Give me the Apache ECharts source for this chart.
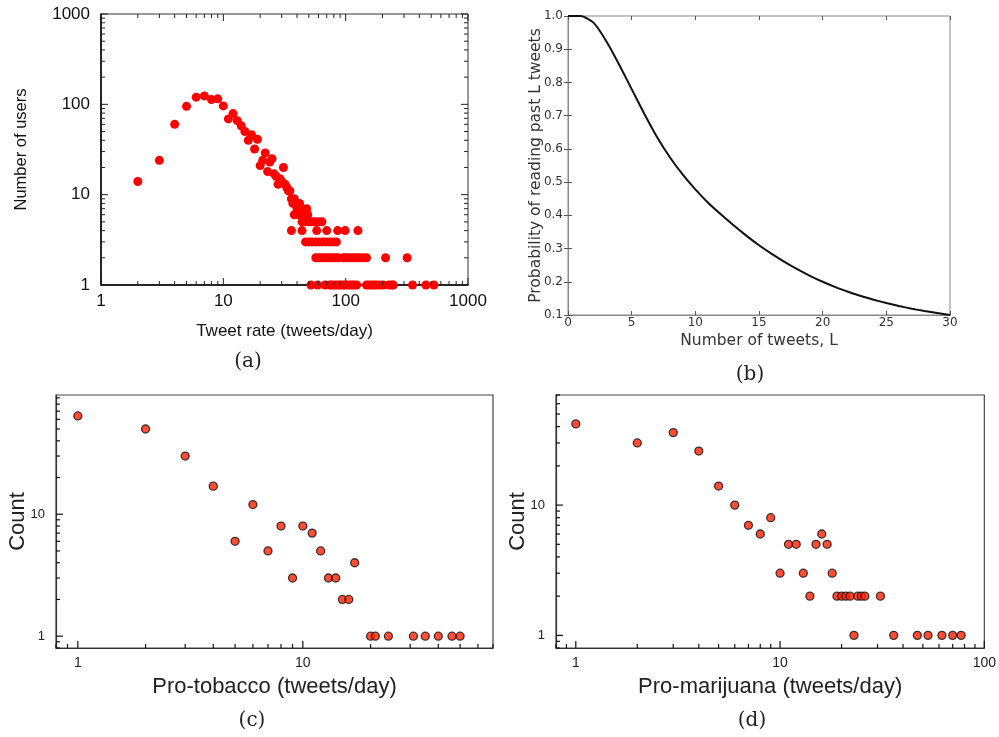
<!DOCTYPE html>
<html>
<head>
<meta charset="utf-8">
<title>Tweet rate distributions</title>
<script src="https://cdn.jsdelivr.net/npm/echarts@6/dist/echarts.min.js"></script>
<style>
  html, body { margin: 0; padding: 0; background: #fff; }
  #chart { width: 999px; height: 737px; }
</style>
</head>
<body>
<div id="chart"></div>
<script>
// (a) Tweet rate vs number of users
const tweetRate = [
  2, 3, 4, 5, 6, 7, 8, 9, 10, 11, 12, 13, 14, 15, 16, 17, 18, 19, 20, 21, 22, 23, 24, 25,
  26, 27, 28, 29, 30, 31, 32, 33, 34, 35,
  36, 38,
  37, 39, 42,
  40, 43, 48,
  38, 41, 44, 49,
  44, 47, 50, 53, 56, 60, 64,
  36, 44, 58, 70, 86, 99, 126,
  47, 50, 53, 57, 61, 65, 69, 74, 79, 84,
  57, 60, 63, 67, 71, 75, 79, 83, 87, 96, 100, 105, 111, 117, 123, 130, 138, 148, 212, 318,
  52, 59, 68, 74, 77, 81, 85, 89, 93, 97, 101, 106, 112, 117, 123, 148, 155, 163, 171, 179,
  190, 203, 226, 238, 245, 352, 453, 526
];
const numUsers = [
  14, 24, 60, 95, 120, 124, 113, 115, 96, 69, 79, 66, 58, 50, 40, 46, 32, 41, 21, 24, 29, 18, 23, 25,
  17, 16, 13, 15, 14, 20, 13, 12, 11, 11,
  9, 9,
  8, 8, 8,
  7, 7, 7,
  6, 6, 6, 6,
  5, 5, 5, 5, 5, 5, 5,
  4, 4, 4, 4, 4, 4, 4,
  3, 3, 3, 3, 3, 3, 3, 3, 3, 3,
  2, 2, 2, 2, 2, 2, 2, 2, 2, 2, 2, 2, 2, 2, 2, 2, 2, 2, 2, 2,
  1, 1, 1, 1, 1, 1, 1, 1, 1, 1, 1, 1, 1, 1, 1, 1, 1, 1, 1, 1,
  1, 1, 1, 1, 1, 1, 1, 1
];

// (b) Probability of reading past L tweets
const tweetsL = [0, 1, 2, 3, 4, 5, 6, 7, 8, 9, 10, 11, 12, 13, 14, 15, 16, 17, 18, 19, 20,
  21, 22, 23, 24, 25, 26, 27, 28, 29, 30];
const readProb = [1.0, 1.0, 0.98, 0.925, 0.855, 0.78, 0.705, 0.635, 0.575, 0.523, 0.478,
  0.438, 0.403, 0.37, 0.339, 0.31, 0.284, 0.26, 0.238, 0.218, 0.2,
  0.184, 0.17, 0.157, 0.146, 0.136, 0.127, 0.119, 0.112, 0.106, 0.1];

// (c) Pro-tobacco
const tobaccoRate = [1, 2, 3, 4, 5, 6, 7, 8, 9, 10, 11, 12, 13, 14, 15, 16, 17, 20, 21, 24, 31, 35, 40, 46, 50];
const tobaccoCount = [64, 50, 30, 17, 6, 12, 5, 8, 3, 8, 7, 5, 3, 3, 2, 2, 4, 1, 1, 1, 1, 1, 1, 1, 1];

// (d) Pro-marijuana
const marijuanaRate = [1, 2, 3, 4, 5, 6, 7, 8, 9, 10, 11, 12, 13, 14, 15, 16, 17, 18, 19, 20, 21, 22,
  23, 24, 25, 26, 31, 36, 47, 53, 62, 70, 77];
const marijuanaCount = [42, 30, 36, 26, 14, 10, 7, 6, 8, 3, 5, 5, 3, 2, 5, 6, 5, 3, 2, 2, 2, 2,
  1, 2, 2, 2, 2, 1, 1, 1, 1, 1, 1];

// axis ranges and tick steps
const rangeA = { x: [1, 1000], y: [1, 1000] };
const rangeC = { x: [0.8, 70], y: [0.8, 95] };
const rangeD = { x: [0.8, 100], y: [0.8, 70] };
const probTicks = { min: 0.1, max: 1.0, step: 0.1 };
const lengthTicks = { min: 0, max: 30, step: 5 };
const DECADE_STEP = [1];
const MINOR_STEPS = [2, 3, 4, 5, 6, 7, 8, 9];

const zip = (a, b) => a.map((v, i) => [v, b[i]]);

function stepsInRange(lo, hi, steps) {
  const out = [];
  for (let k = Math.floor(Math.log10(lo)); k <= Math.ceil(Math.log10(hi)); k++) {
    steps.forEach(m => {
      const v = m * Math.pow(10, k);
      if (v >= lo * 0.9999 && v <= hi * 1.0001) out.push(v);
    });
  }
  return out;
}

// sides: 0 bottom, 1 top, 2 left, 3 right
function tickData(range, mirror) {
  const data = [];
  const add = (steps, major) => {
    stepsInRange(range.x[0], range.x[1], steps).forEach(v => {
      data.push([v, range.y[0], 0, major]);
      if (mirror) data.push([v, range.y[0], 1, major]);
    });
    stepsInRange(range.y[0], range.y[1], steps).forEach(v => {
      data.push([range.x[0], v, 2, major]);
      if (mirror) data.push([range.x[0], v, 3, major]);
    });
  };
  add(DECADE_STEP, 1);
  add(MINOR_STEPS, 0);
  return data;
}

function tickRenderer(majorLen, minorLen, color, width) {
  return function (params, api) {
    const cs = params.coordSys;
    const side = api.value(2);
    const len = api.value(3) ? majorLen : minorLen;
    const p = api.coord([api.value(0), api.value(1)]);
    let shape;
    if (side === 0) shape = { x1: p[0], y1: cs.y + cs.height, x2: p[0], y2: cs.y + cs.height - len };
    else if (side === 1) shape = { x1: p[0], y1: cs.y, x2: p[0], y2: cs.y + len };
    else if (side === 2) shape = { x1: cs.x, y1: p[1], x2: cs.x + len, y2: p[1] };
    else shape = { x1: cs.x + cs.width, y1: p[1], x2: cs.x + cs.width - len, y2: p[1] };
    return { type: 'line', shape: shape, style: { stroke: color, lineWidth: width } };
  };
}

const decadeLabel = v => {
  const e = Math.log10(v);
  return Math.abs(e - Math.round(e)) < 1e-6 ? String(Math.round(Math.pow(10, Math.round(e)))) : '';
};

const SANS = 'Liberation Sans, Arial, Helvetica, sans-serif';
const MPL = 'DejaVu Sans, sans-serif';
const SERIF = 'DejaVu Serif, serif';

function logAxis(grid, range, opts) {
  return {
    type: 'log', logBase: 10, gridIndex: grid,
    min: range[0], max: range[1],
    axisLine: { show: true, lineStyle: { color: opts.lineColor, width: opts.lineWidth } },
    axisTick: { show: false },
    splitLine: { show: false },
    axisLabel: { formatter: decadeLabel, fontFamily: SANS, fontSize: opts.fontSize,
      color: opts.labelColor, margin: opts.margin, showMinLabel: true, showMaxLabel: true },
    name: opts.name, nameLocation: 'middle', nameGap: opts.nameGap, nameMoveOverlap: false,
    nameTextStyle: { fontFamily: SANS, fontSize: opts.nameSize, color: opts.labelColor }
  };
}

function tickSeries(axisIndex, range, mirror, majorLen, minorLen, color, width) {
  return {
    type: 'custom', xAxisIndex: axisIndex, yAxisIndex: axisIndex, silent: true, z: 5,
    clip: false,
    dimensions: ['x', 'y', 'side', 'major'],
    encode: { x: 0, y: 1 },
    renderItem: tickRenderer(majorLen, minorLen, color, width),
    data: tickData(range, mirror)
  };
}

const chart = echarts.init(document.getElementById('chart'), null, { renderer: 'canvas' });

const option = {
  animation: false,
  backgroundColor: '#ffffff',
  grid: [
    { left: 101, top: 14, width: 367, height: 271, show: true, borderColor: '#333', borderWidth: 1, backgroundColor: 'transparent' },
    { left: 568, top: 16, width: 382, height: 299, show: true, borderColor: '#888', borderWidth: 1, backgroundColor: 'transparent' },
    { left: 56, top: 395, width: 437, height: 253, show: true, borderColor: '#444', borderWidth: 1.2, backgroundColor: 'transparent' },
    { left: 556, top: 395, width: 437, height: 253, show: true, borderColor: '#444', borderWidth: 1.2, backgroundColor: 'transparent' }
  ],
  xAxis: [
    logAxis(0, rangeA.x, { lineColor: '#000', lineWidth: 1.5, fontSize: 17, labelColor: '#111', margin: 8,
      name: 'Tweet rate (tweets/day)', nameGap: 38, nameSize: 17 }),
    {
      type: 'value', gridIndex: 1, min: lengthTicks.min, max: lengthTicks.max, interval: lengthTicks.step,
      axisLine: { show: true, lineStyle: { color: '#888' } },
      axisTick: { show: true, inside: true, length: 4, lineStyle: { color: '#555' } },
      splitLine: { show: false },
      axisLabel: { fontFamily: MPL, fontSize: 12, color: '#333', margin: 2 },
      name: 'Number of tweets, L', nameLocation: 'middle', nameGap: 18, nameMoveOverlap: false,
      nameTextStyle: { fontFamily: MPL, fontSize: 15.5, color: '#333' }
    },
    {
      type: 'value', gridIndex: 1, position: 'top', min: lengthTicks.min, max: lengthTicks.max, interval: lengthTicks.step,
      axisLine: { show: false },
      axisTick: { show: true, inside: true, length: 4, lineStyle: { color: '#555' } },
      splitLine: { show: false }, axisLabel: { show: false }
    },
    logAxis(2, rangeC.x, { lineColor: '#333', lineWidth: 1.2, fontSize: 14, labelColor: '#222', margin: 8,
      name: 'Pro-tobacco (tweets/day)', nameGap: 28, nameSize: 22 }),
    logAxis(3, rangeD.x, { lineColor: '#333', lineWidth: 1.2, fontSize: 14, labelColor: '#222', margin: 8,
      name: 'Pro-marijuana (tweets/day)', nameGap: 28, nameSize: 22 })
  ],
  yAxis: [
    logAxis(0, rangeA.y, { lineColor: '#000', lineWidth: 1.5, fontSize: 17, labelColor: '#111', margin: 11,
      name: 'Number of users', nameGap: 71, nameSize: 16.5 }),
    {
      type: 'value', gridIndex: 1, min: probTicks.min, max: probTicks.max, interval: probTicks.step,
      axisLine: { show: true, lineStyle: { color: '#888' } },
      axisTick: { show: true, inside: true, length: 4, lineStyle: { color: '#555' } },
      splitLine: { show: false },
      axisLabel: { fontFamily: MPL, fontSize: 12, color: '#333', margin: 5, formatter: v => v.toFixed(1) },
      name: 'Probability of reading past L tweets', nameLocation: 'middle', nameGap: 24, nameMoveOverlap: false,
      nameTextStyle: { fontFamily: MPL, fontSize: 15.5, color: '#333' }
    },
    {
      type: 'value', gridIndex: 1, position: 'right', min: probTicks.min, max: probTicks.max, interval: probTicks.step,
      axisLine: { show: false },
      axisTick: { show: true, inside: true, length: 4, lineStyle: { color: '#555' } },
      splitLine: { show: false }, axisLabel: { show: false }
    },
    logAxis(2, rangeC.y, { lineColor: '#333', lineWidth: 1.2, fontSize: 13, labelColor: '#222', margin: 11,
      name: 'Count', nameGap: 27, nameSize: 22 }),
    logAxis(3, rangeD.y, { lineColor: '#333', lineWidth: 1.2, fontSize: 13, labelColor: '#222', margin: 11,
      name: 'Count', nameGap: 27, nameSize: 22 })
  ],
  series: [
    {
      type: 'scatter', xAxisIndex: 0, yAxisIndex: 0, symbolSize: 9,
      itemStyle: { color: '#ff0000', opacity: 1 },
      data: zip(tweetRate, numUsers), z: 4
    },
    tickSeries(0, rangeA, true, 7, 4, '#222', 1),
    {
      type: 'line', xAxisIndex: 1, yAxisIndex: 1, showSymbol: false,
      smooth: 0.2,
      lineStyle: { color: '#111', width: 2 },
      data: zip(tweetsL, readProb)
    },
    {
      type: 'scatter', xAxisIndex: 3, yAxisIndex: 3, symbolSize: 8,
      itemStyle: { color: '#ff2200', borderColor: '#111', borderWidth: 1.3 },
      data: zip(tobaccoRate, tobaccoCount), z: 4
    },
    tickSeries(3, rangeC, false, 7, 4, '#111', 1.2),
    {
      type: 'scatter', xAxisIndex: 4, yAxisIndex: 4, symbolSize: 8,
      itemStyle: { color: '#ff2200', borderColor: '#111', borderWidth: 1.3 },
      data: zip(marijuanaRate, marijuanaCount), z: 4
    },
    tickSeries(4, rangeD, false, 7, 4, '#111', 1.2)
  ],
  graphic: [
    { type: 'text', x: 248, y: 362, style: { text: '(a)', font: '20px ' + SERIF, fill: '#222', textAlign: 'center', textVerticalAlign: 'middle' } },
    { type: 'text', x: 750, y: 375, style: { text: '(b)', font: '20px ' + SERIF, fill: '#222', textAlign: 'center', textVerticalAlign: 'middle' } },
    { type: 'text', x: 252, y: 721, style: { text: '(c)', font: '20px ' + SERIF, fill: '#222', textAlign: 'center', textVerticalAlign: 'middle' } },
    { type: 'text', x: 752, y: 721, style: { text: '(d)', font: '20px ' + SERIF, fill: '#222', textAlign: 'center', textVerticalAlign: 'middle' } }
  ]
};

chart.setOption(option);
</script>
</body>
</html>
